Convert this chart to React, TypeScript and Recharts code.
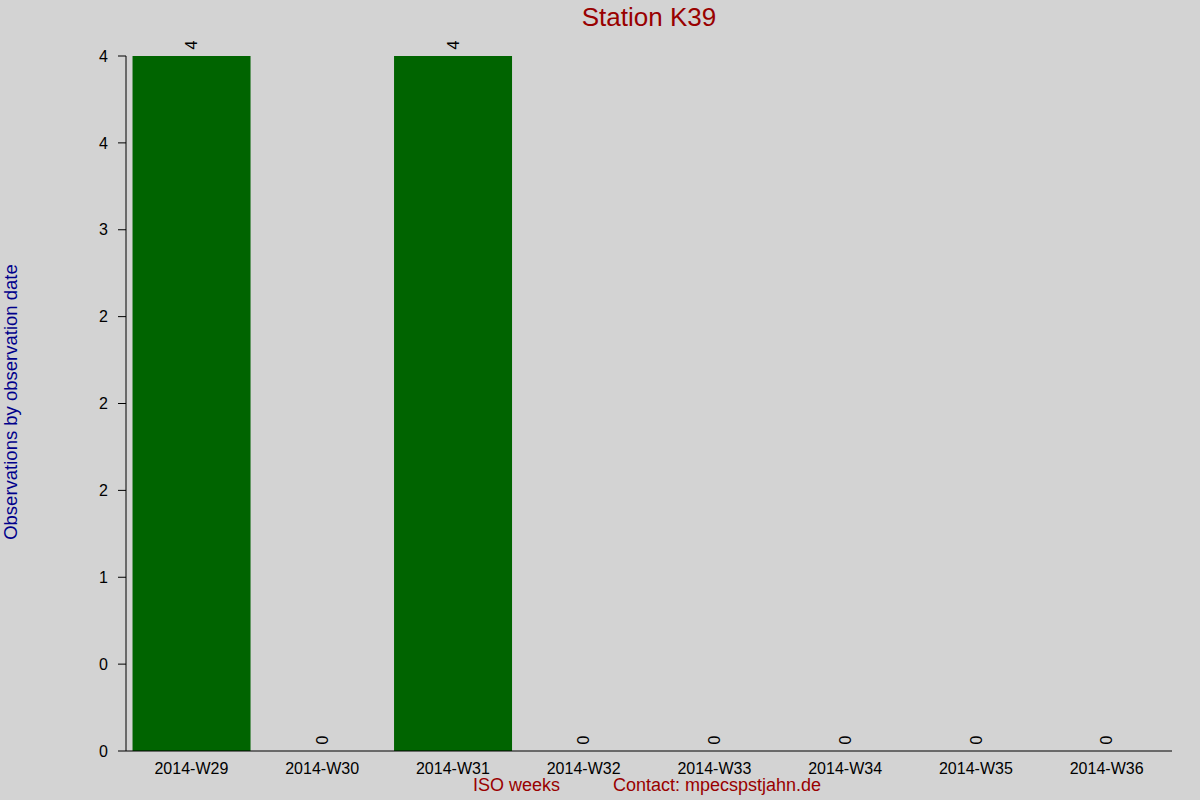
import { BarChart, Bar, XAxis, YAxis, LabelList } from 'recharts'

const WEEKS = [
  '2014-W29', '2014-W30', '2014-W31', '2014-W32',
  '2014-W33', '2014-W34', '2014-W35', '2014-W36',
]
const OBSERVATIONS = [4, 0, 4, 0, 0, 0, 0, 0]
const Y_TICKS = [0, 0.5, 1, 1.5, 2, 2.5, 3, 3.5, 4]
const Y_TICK_LABELS = ['0', '0', '1', '2', '2', '2', '3', '4', '4']

const BG = '#d3d3d3'
const BAR_COLOR = '#006400'
const RED = '#990000'
const BLUE = '#00008b'
const FONT = 'Arial, "Liberation Sans", sans-serif'

const chartData = WEEKS.map((week, i) => ({ week, count: OBSERVATIONS[i] }))

// rotated value label just above each bar (also for empty weeks)
function ValueLabel(props: any) {
  const { x, y, width, height, value } = props
  const cx = Number(x) + Number(width) / 2
  const top = Math.min(Number(y), Number(y) + Number(height))
  const cy = top - 11
  return (
    <text
      x={cx}
      y={cy}
      transform={`rotate(-90, ${cx}, ${cy})`}
      textAnchor="middle"
      dominantBaseline="central"
      fontSize={16}
      fontFamily={FONT}
      fill="#000"
    >
      {value}
    </text>
  )
}

export default function App() {
  return (
    <div style={{ position: 'absolute', left: 0, top: 0, width: 1200, height: 800, background: BG, fontFamily: FONT }}>
      <BarChart
        width={1200}
        height={800}
        data={chartData}
        margin={{ top: 56, right: 28, left: 0, bottom: 0 }}
        barCategoryGap="5%"
      >
        <XAxis
          dataKey="week"
          height={49}
          tickLine={false}
          axisLine={{ stroke: '#000' }}
          tick={{ fill: '#000', fontSize: 16, fontFamily: FONT }}
          tickMargin={6}
          interval={0}
        />
        <YAxis
          width={126}
          domain={[0, 4]}
          ticks={Y_TICKS}
          interval={0}
          tickSize={8}
          tickMargin={10}
          tickLine={{ stroke: '#000' }}
          axisLine={{ stroke: '#000' }}
          tick={{ fill: '#000', fontSize: 16, fontFamily: FONT }}
          tickFormatter={(v: number) => Y_TICK_LABELS[Y_TICKS.indexOf(v)]}
        />
        <Bar
          dataKey="count"
          fill={BAR_COLOR}
          minPointSize={(v: number) => (v === 0 ? 0.01 : 0)}
          isAnimationActive={false}
        >
          <LabelList dataKey="count" content={ValueLabel} />
        </Bar>
      </BarChart>
      <div style={{ position: 'absolute', top: 2, left: 0, width: 1298, textAlign: 'center', color: RED, fontSize: 26 }}>
        Station K39
      </div>
      <div
        style={{
          position: 'absolute', left: 11, top: 402, color: BLUE, fontSize: 18.5, whiteSpace: 'nowrap',
          transform: 'translate(-50%, -50%) rotate(-90deg)',
        }}
      >
        Observations by observation date
      </div>
      <div style={{ position: 'absolute', left: 473, top: 775, color: RED, fontSize: 18, whiteSpace: 'nowrap' }}>
        ISO weeks
      </div>
      <div style={{ position: 'absolute', left: 613, top: 775, color: RED, fontSize: 18, whiteSpace: 'nowrap' }}>
        Contact: mpecspstjahn.de
      </div>
    </div>
  )
}
